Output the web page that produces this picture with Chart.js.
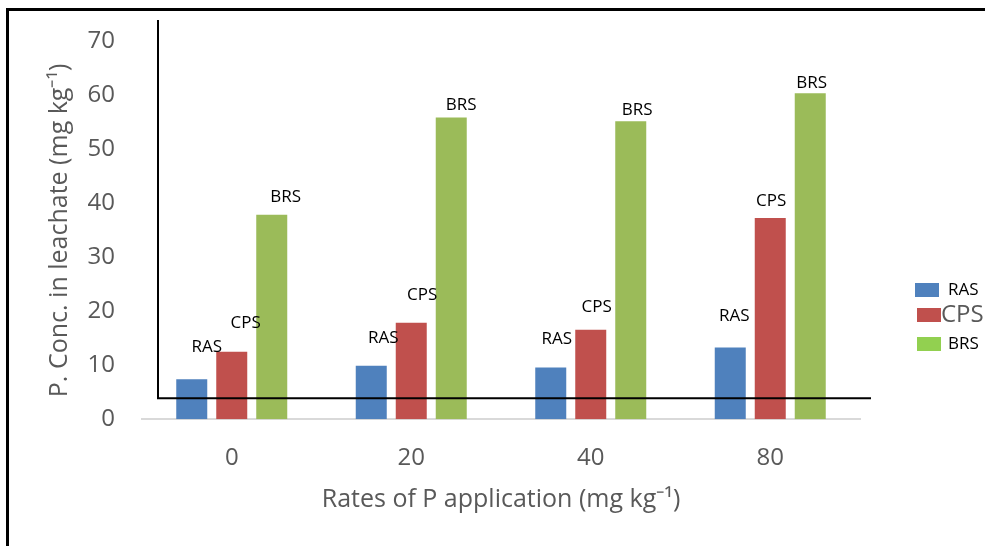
<!DOCTYPE html>
<html>
<head>
<meta charset="utf-8">
<script src="https://cdn.jsdelivr.net/npm/chart.js@4"></script>
<style>
  html, body { margin: 0; padding: 0; background: white; }
  #wrap { width: 985px; height: 546px; }
</style>
</head>
<body>
<div id="wrap"><canvas id="grafico"></canvas></div>
<script>
// dados
const rates = ['0', '20', '40', '80']
const seriesNames = ['RAS', 'CPS', 'BRS']
const ras = [7.4, 9.9, 9.6, 13.3]
const cps = [12.5, 17.9, 16.6, 37.3]
const brs = [37.9, 55.9, 55.2, 60.4]
const yMin = 0
const yMax = 70
const yStep = 10

const barColors = ['#4F81BD', '#C0504D', '#9BBB59']
const legendColors = ['#4F81BD', '#C0504D', '#92D050']
const cinza = '#595959'

// deslocamento dos rótulos sobre as barras (px)
const labelOffsets = [
  [[15, -32], [12, -28], [6, -28], [4, -31]],
  [[14, -29], [11, -28], [6, -23], [1, -17]],
  [[14, -18], [10, -12], [6.5, -11], [1.5, -10]]
]

Chart.defaults.font.family = '"Open Sans", sans-serif'
Chart.defaults.color = cinza

// rótulos das barras
const barLabels = {
  id: 'barLabels',
  afterDatasetsDraw(chart) {
    const ctx = chart.ctx
    ctx.save()
    ctx.font = '17px "Open Sans", sans-serif'
    ctx.fillStyle = '#000'
    ctx.textAlign = 'center'
    ctx.textBaseline = 'middle'
    chart.data.datasets.forEach((ds, i) => {
      chart.getDatasetMeta(i).data.forEach((el, j) => {
        const off = labelOffsets[i][j]
        ctx.fillText(ds.label, el.x + off[0], el.y + off[1])
      })
    })
    ctx.restore()
  }
}

// linhas pretas e moldura
const frame = {
  id: 'frame',
  afterDraw(chart) {
    const ctx = chart.ctx
    const a = chart.chartArea
    const y = chart.scales.y
    ctx.save()
    ctx.strokeStyle = '#000'
    ctx.lineWidth = 2
    ctx.beginPath()
    ctx.moveTo(a.left + 16, 20)
    ctx.lineTo(a.left + 16, y.getPixelForValue(3.9))
    ctx.lineTo(a.right + 11, y.getPixelForValue(3.9))
    ctx.stroke()
    ctx.lineWidth = 3
    ctx.beginPath()
    ctx.moveTo(7.5, chart.height)
    ctx.lineTo(7.5, 9.5)
    ctx.lineTo(chart.width, 9.5)
    ctx.stroke()
    ctx.restore()
  }
}

// legenda à direita
const legenda = {
  id: 'legenda',
  afterDraw(chart) {
    const ctx = chart.ctx
    const x0 = chart.chartArea.right + 55
    const rows = [
      { y: 290, font: '17px "Open Sans", sans-serif', color: '#000', tx: 7 },
      { y: 315, font: '24px "Open Sans", sans-serif', color: cinza, tx: 0 },
      { y: 344, font: '17px "Open Sans", sans-serif', color: '#000', tx: 7 }
    ]
    ctx.save()
    ctx.textBaseline = 'middle'
    ctx.textAlign = 'left'
    seriesNames.forEach((name, i) => {
      const r = rows[i]
      ctx.fillStyle = legendColors[i]
      ctx.fillRect(x0 + (i ? 2 : 0), r.y - 7, 24, 14)
      ctx.font = r.font
      ctx.fillStyle = r.color
      ctx.fillText(name, x0 + 26 + r.tx, r.y)
    })
    ctx.restore()
  }
}

const ctx = document.getElementById('grafico')

const data = {
  labels: rates,
  datasets: [
    { label: seriesNames[0], data: ras, backgroundColor: barColors[0] },
    { label: seriesNames[1], data: cps, backgroundColor: barColors[1] },
    { label: seriesNames[2], data: brs, backgroundColor: barColors[2] }
  ]
}

const config = {
  type: 'bar',
  data,
  options: {
    responsive: true,
    maintainAspectRatio: false,
    animation: false,
    categoryPercentage: 0.6685,
    barPercentage: 0.775,
    layout: { padding: { top: 40.7, right: 125, bottom: 0, left: 0 } },
    plugins: {
      legend: { display: false },
      tooltip: { enabled: false }
    },
    scales: {
      x: {
        grid: { display: false, drawTicks: false },
        border: { display: true, color: '#D9D9D9', width: 2 },
        ticks: { padding: 24, color: cinza, font: { size: 24 } },
        title: {
          display: true,
          text: 'Rates of P application (mg kg⁻¹)',
          color: cinza,
          font: { size: 25 },
          padding: { top: 0, bottom: 31 }
        },
        afterFit(scale) { scale.height = 126.7 }
      },
      y: {
        min: yMin,
        max: yMax,
        grid: { display: false, drawTicks: false },
        border: { display: false },
        ticks: { stepSize: yStep, padding: 27, color: cinza, font: { size: 24 } },
        title: {
          display: true,
          text: 'P. Conc. in leachate (mg kg⁻¹)',
          color: cinza,
          font: { size: 25 },
          padding: { top: 45, bottom: 0 }
        },
        afterFit(scale) { scale.width = 142 }
      }
    }
  },
  plugins: [barLabels, frame, legenda]
}

const graph = new Chart(ctx, config)
</script>
</body>
</html>
